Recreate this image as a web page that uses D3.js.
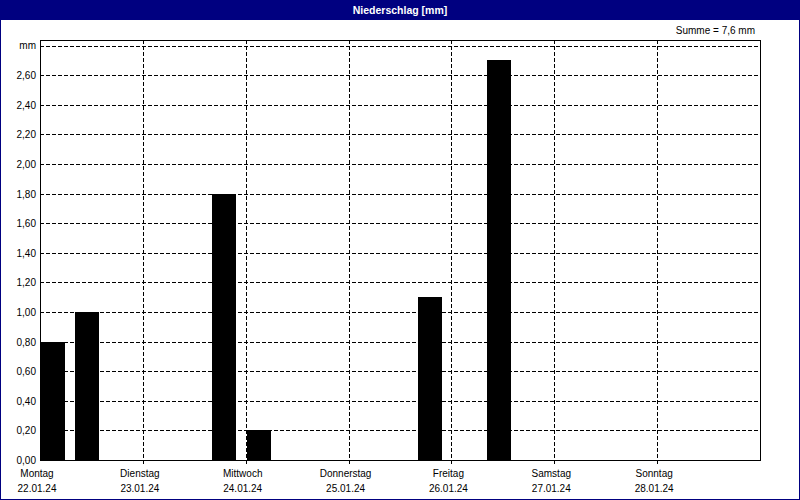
<!DOCTYPE html>
<html><head><meta charset="utf-8">
<script src="https://cdn.jsdelivr.net/npm/d3@7"></script>
<style>
html,body{margin:0;padding:0;background:#fff;}
svg{display:block;}
text{font-family:"Liberation Sans",Arial,sans-serif;}
</style>
</head><body>
<svg id="c" width="800" height="500"></svg>
<script>
const title = "Niederschlag [mm]";
const sumLabel = "Summe = 7,6 mm";
const days = ["Montag","Dienstag","Mittwoch","Donnerstag","Freitag","Samstag","Sonntag"];
const dates = ["22.01.24","23.01.24","24.01.24","25.01.24","26.01.24","27.01.24","28.01.24"];
const slotsPerDay = 3;
// precipitation per 8-hour slot (mm)
const precip = [0.8,1.0,0, 0,0,1.8, 0.2,0,0, 0,0,1.1, 0,2.7,0, 0,0,0, 0,0,0];
const yTicks = [0,0.2,0.4,0.6,0.8,1.0,1.2,1.4,1.6,1.8,2.0,2.2,2.4,2.6];
const yUnit = "mm";
const yMax = 2.8;

const svg = d3.select("#c");
const W=800,H=500;
const L=40,R=760,T=40,B=460;

svg.append("rect").attr("x",0.5).attr("y",0.5).attr("width",W-1).attr("height",H-1)
  .attr("fill","#fff").attr("stroke","#000080").attr("stroke-width",1);
svg.append("rect").attr("x",0).attr("y",0).attr("width",W).attr("height",20).attr("fill","#000080");
svg.append("text").attr("x",400).attr("y",14).attr("text-anchor","middle")
  .attr("fill","#fff").attr("font-weight","bold").attr("font-size","10.5px").text(title);
svg.append("text").attr("x",755).attr("y",34).attr("text-anchor","end")
  .attr("fill","#000").attr("font-size","10px").text(sumLabel);

const nSlots = days.length*slotsPerDay;
const x = d3.scaleLinear().domain([0,nSlots]).range([L,R]);
const y = d3.scaleLinear().domain([0,yMax]).range([B,45.5]);
const px = v => Math.round(v)+0.5;

const g = svg.append("g");
// horizontal grid
g.selectAll("line.hg").data(yTicks.slice(1).concat([yMax])).join("line")
  .attr("x1",L).attr("x2",R).attr("y1",d=>px(y(d))).attr("y2",d=>px(y(d)))
  .attr("stroke","#000").attr("stroke-dasharray","4,2").attr("shape-rendering","crispEdges");
// vertical grid at day boundaries
const dayIdx = d3.range(1,days.length);
g.selectAll("line.vg").data(dayIdx).join("line")
  .attr("x1",d=>px(x(d*slotsPerDay))).attr("x2",d=>px(x(d*slotsPerDay)))
  .attr("y1",T).attr("y2",B+4)
  .attr("stroke","#000").attr("stroke-dasharray","4,2").attr("shape-rendering","crispEdges");

// bars
const slotW = x(1)-x(0);
g.selectAll("rect.bar").data(precip.map((v,i)=>({v,i})).filter(d=>d.v>0)).join("rect")
  .attr("x",d=>Math.round(x(d.i))+1).attr("width",Math.round(slotW*0.7))
  .attr("y",d=>Math.round(y(d.v))).attr("height",d=>B-Math.round(y(d.v)))
  .attr("fill","#000");

// frame
svg.append("rect").attr("x",L+0.5).attr("y",T+0.5).attr("width",R-L).attr("height",B-T)
  .attr("fill","none").attr("stroke","#000").attr("shape-rendering","crispEdges");

// y labels
const fmt = d => d3.format(".2f")(d).replace(".",",");
svg.selectAll("text.yl").data(yTicks).join("text")
  .attr("x",36).attr("y",d=>y(d)+4).attr("text-anchor","end")
  .attr("font-size","10px").attr("fill","#000").text(fmt);
svg.append("text").attr("x",36).attr("y",y(yMax)+3).attr("text-anchor","end")
  .attr("font-size","10px").attr("fill","#000").text(yUnit);

// x labels
const xl = svg.selectAll("g.xl").data(days).join("g")
  .attr("transform",(d,i)=>`translate(${x(i*slotsPerDay)-3},0)`);
xl.append("text").attr("y",477).attr("text-anchor","middle").attr("font-size","10px").attr("fill","#000").text(d=>d);
xl.append("text").attr("y",492).attr("text-anchor","middle").attr("font-size","10px").attr("fill","#000").text((d,i)=>dates[i]);
</script>
</body></html>
